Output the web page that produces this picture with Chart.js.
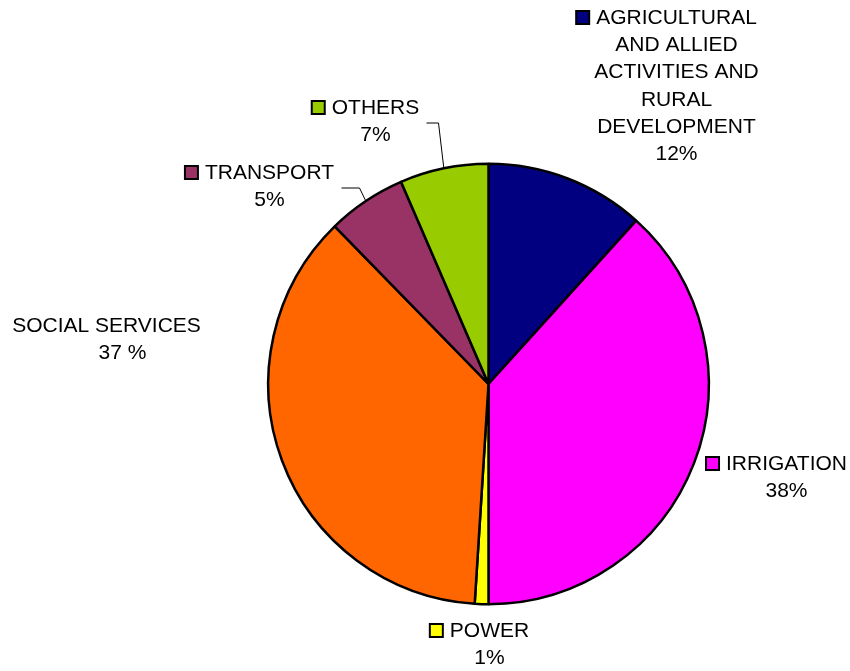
<!DOCTYPE html>
<html>
<head>
<meta charset="utf-8">
<script src="https://cdn.jsdelivr.net/npm/chart.js@4"></script>
<style>
  body { margin: 0; background: #fff; }
</style>
</head>
<body>
<canvas id="chart" width="850" height="671"></canvas>
<script>
// datos del gráfico
const categorias = ['AGRICULTURAL AND ALLIED ACTIVITIES AND RURAL DEVELOPMENT', 'IRRIGATION', 'POWER', 'SOCIAL SERVICES', 'TRANSPORT', 'OTHERS'];
const valores = [11.7, 38.3, 1.0, 36.7, 5.8, 6.5];
const etiquetasPct = ['12%', '38%', '1%', '37 %', '5%', '7%'];
const colores = ['#000080', '#FF00FF', '#FFFF00', '#FF6600', '#993366', '#99CC00'];

// líneas de texto de cada etiqueta
const lineasEtiqueta = [
  ['AGRICULTURAL', 'AND ALLIED', 'ACTIVITIES AND', 'RURAL', 'DEVELOPMENT'],
  ['IRRIGATION'],
  ['POWER'],
  ['SOCIAL SERVICES'],
  ['TRANSPORT'],
  ['OTHERS']
];
// posición de la etiqueta respecto al centro de la tarta (centro del texto, primera línea)
const posEtiqueta = [
  { dx: 188, dy: -366, caja: true },
  { dx: 298, dy: 80, caja: true },
  { dx: 1, dy: 247, caja: true },
  { dx: -382, dy: -58, caja: false, despPct: 16 },
  { dx: -219, dy: -211, caja: true, guia: [[72, 15], [90, 15]] },
  { dx: -113, dy: -276, caja: true, guia: [[51, 15], [63, 15]] }
];

const pluginEtiquetas = {
  id: 'etiquetas',
  afterDatasetsDraw(chart) {
    const ctx = chart.ctx;
    const meta = chart.getDatasetMeta(0);
    const arco0 = meta.data[0];
    const cx = arco0.x, cy = arco0.y;
    ctx.save();
    ctx.font = '21px "Liberation Sans", Arial, sans-serif';
    ctx.textAlign = 'center';
    ctx.textBaseline = 'middle';
    ctx.fillStyle = '#000';
    meta.data.forEach((arco, i) => {
      const p = posEtiqueta[i];
      const x = cx + p.dx, y = cy + p.dy;
      const lineas = lineasEtiqueta[i].concat([etiquetasPct[i]]);
      lineas.forEach((t, j) => {
        const esPct = j === lineas.length - 1;
        ctx.fillText(t, x + (esPct && p.despPct ? p.despPct : 0), y + j * 27.3);
      });
      if (p.caja) {
        const w = ctx.measureText(lineas[0]).width;
        const bx = x - w / 2 - 20;
        ctx.fillStyle = colores[i];
        ctx.fillRect(bx, y - 7, 13, 13);
        ctx.strokeStyle = '#000';
        ctx.lineWidth = 2;
        ctx.strokeRect(bx, y - 7, 13, 13);
        ctx.fillStyle = '#000';
      }
      if (p.guia) {
        const medio = (arco.startAngle + arco.endAngle) / 2;
        const r = arco.outerRadius;
        ctx.beginPath();
        ctx.strokeStyle = '#000';
        ctx.lineWidth = 1;
        ctx.moveTo(x + p.guia[0][0], y + p.guia[0][1]);
        ctx.lineTo(x + p.guia[1][0], y + p.guia[1][1]);
        ctx.lineTo(cx + Math.cos(medio) * r, cy + Math.sin(medio) * r);
        ctx.stroke();
      }
    });
    ctx.restore();
  }
};

window.onload = function() {
  const ctx = document.getElementById('chart').getContext('2d');
  new Chart(ctx, {
    type: 'pie',
    data: {
      labels: categorias,
      datasets: [{
        data: valores,
        backgroundColor: colores,
        borderColor: '#000',
        borderWidth: 2.5
      }]
    },
    options: {
      responsive: false,
      animation: false,
      layout: { padding: { left: 267, right: 140, top: 162, bottom: 65 } },
      plugins: {
        legend: { display: false },
        tooltip: { enabled: false }
      }
    },
    plugins: [pluginEtiquetas]
  });
};
</script>
</body>
</html>
